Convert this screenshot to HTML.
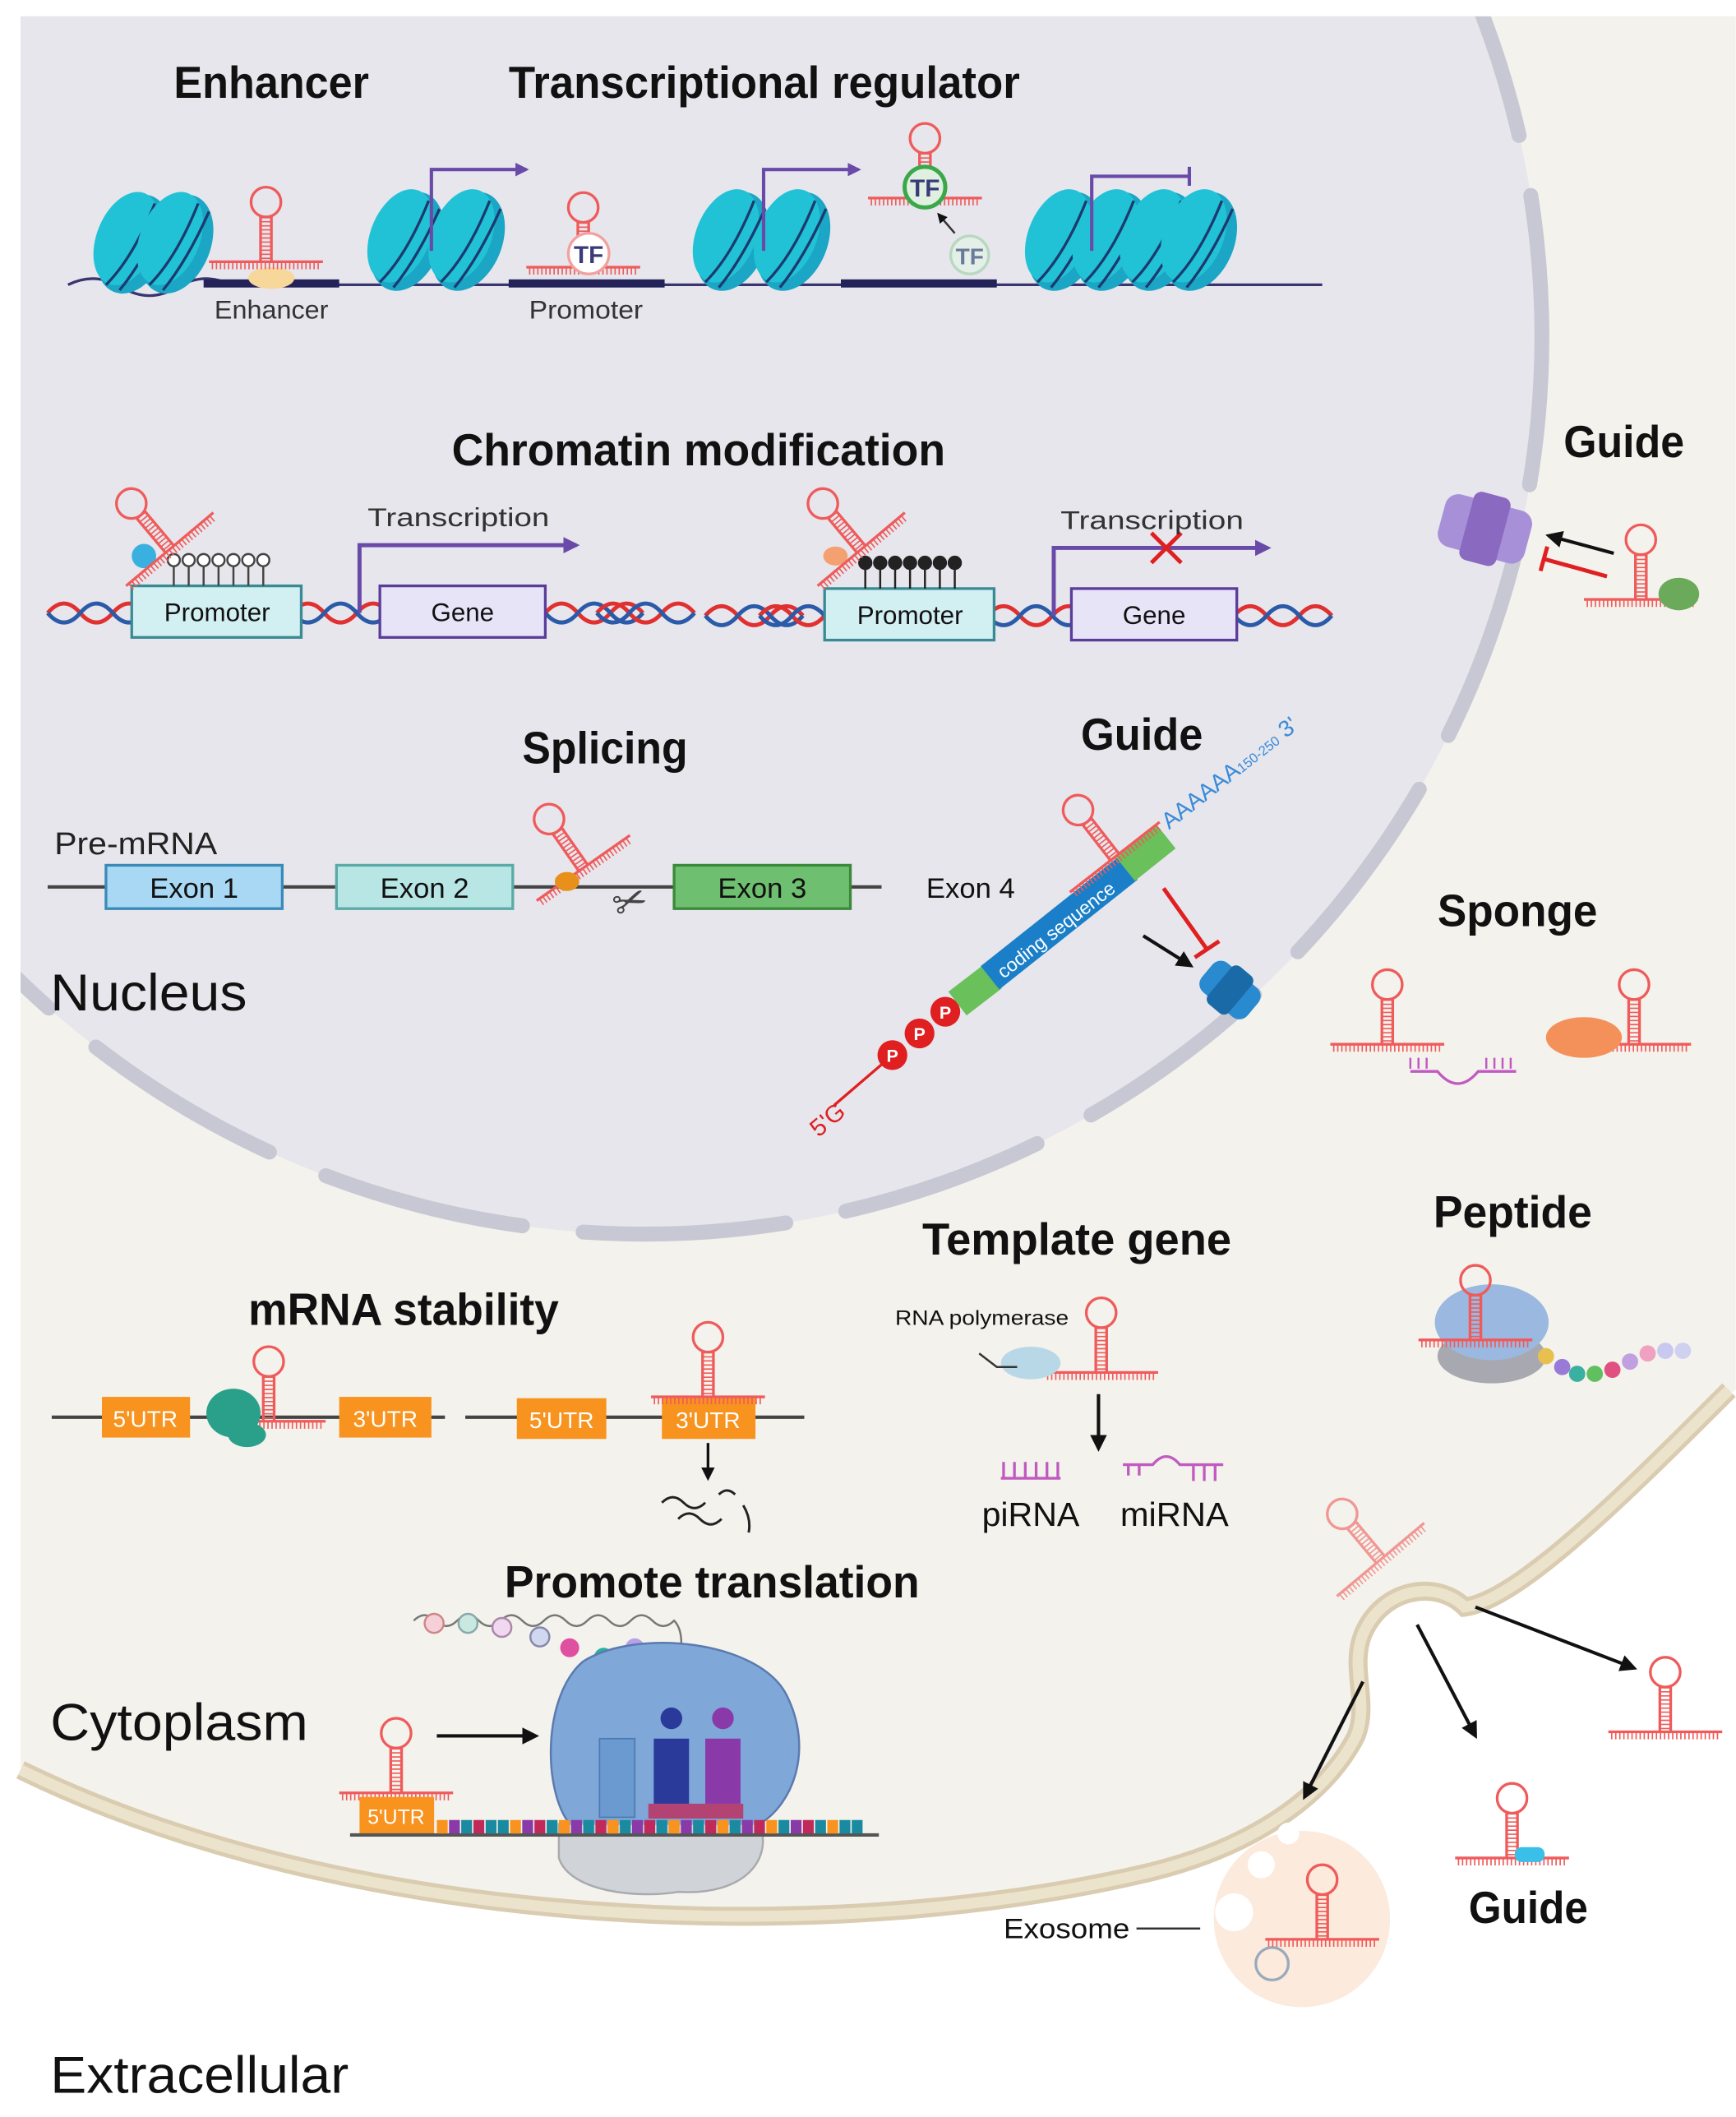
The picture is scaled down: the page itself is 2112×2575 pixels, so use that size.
<!DOCTYPE html>
<html><head><meta charset="utf-8">
<style>
html,body{margin:0;padding:0;background:#fff;}
svg{display:block;}
text{font-family:"Liberation Sans",Arial,sans-serif;}
.t{font-weight:bold;font-size:33px;fill:#111;}
.r{font-size:38px;fill:#111;}
.s{font-size:19px;fill:#333;}
</style></head><body>
<svg width="2112" height="2575" viewBox="0 0 1280 1561" xmlns="http://www.w3.org/2000/svg">
<defs>
<clipPath id="cell"><path d="M15,12 H1280 V1025 L1270,1030 C1200,1100 1120,1180 1080,1185 C1060,1165 1020,1170 1005,1205 C995,1230 1010,1255 1000,1280 C980,1320 930,1360 850,1380 C600,1440 250,1420 15,1305 Z"/></clipPath>
<g id="hp">
  <circle cx="0" cy="-44" r="11" fill="none" stroke="#ef5b5b" stroke-width="2"/>
  <line x1="-4" y1="-34" x2="-4" y2="0" stroke="#ef5b5b" stroke-width="2"/>
  <line x1="4" y1="-34" x2="4" y2="0" stroke="#ef5b5b" stroke-width="2"/>
  <line x1="0" y1="-33" x2="0" y2="0" stroke="#ef5b5b" stroke-width="8" stroke-dasharray="1 2"/>
  <line x1="-42" y1="0" x2="42" y2="0" stroke="#ef5b5b" stroke-width="2"/>
  <line x1="-40" y1="3" x2="40" y2="3" stroke="#ef5b5b" stroke-width="5" stroke-dasharray="1 2"/>
</g>
<g id="nuc">
  <ellipse cx="0" cy="0" rx="25" ry="38" transform="rotate(22)" fill="#1aa6c4"/>
  <ellipse cx="-6" cy="-2" rx="22" ry="36" transform="rotate(22)" fill="#22c2d6"/>
  <path d="M-20,30 Q0,10 16,-30" stroke="#1c3a70" stroke-width="2" fill="none"/>
  <path d="M-10,34 Q8,12 24,-24" stroke="#1c3a70" stroke-width="2" fill="none"/>
</g>
<marker id="ah" viewBox="0 0 10 10" refX="8" refY="5" markerWidth="5" markerHeight="5" orient="auto"><path d="M0,0 L10,5 L0,10 Z" fill="#111"/></marker>
<marker id="ahp" viewBox="0 0 10 10" refX="8" refY="5" markerWidth="4" markerHeight="4" orient="auto"><path d="M0,0 L10,5 L0,10 Z" fill="#6a4aa8"/></marker>
<g id="helix">
  <path d="M0,0 q12,-14 24,0 t24,0 t24,0" stroke="#e03030" stroke-width="3" fill="none"/>
  <path d="M0,0 q12,14 24,0 t24,0 t24,0" stroke="#2a5aa8" stroke-width="3" fill="none"/>
</g>
</defs>

<!-- cell -->
<path d="M15,12 H1280 V1025 L1270,1030 C1200,1100 1120,1180 1080,1185 C1060,1165 1020,1170 1005,1205 C995,1230 1010,1255 1000,1280 C980,1320 930,1360 850,1380 C600,1440 250,1420 15,1305 Z" fill="#f4f2ec"/>
<path d="M15,1305 C250,1420 600,1440 850,1380 C930,1360 980,1320 1000,1280 C1010,1255 995,1230 1005,1205 C1020,1170 1060,1165 1080,1185 C1120,1180 1200,1100 1275,1025" fill="none" stroke="#d9ccb0" stroke-width="14"/>
<path d="M15,1305 C250,1420 600,1440 850,1380 C930,1360 980,1320 1000,1280 C1010,1255 995,1230 1005,1205 C1020,1170 1060,1165 1080,1185 C1120,1180 1200,1100 1275,1025" fill="none" stroke="#ece3cc" stroke-width="8"/>

<!-- nucleus -->
<g clip-path="url(#cell)">
<circle cx="475" cy="248" r="662" fill="#e6e6ec"/>
<circle cx="475" cy="248" r="662" fill="none" stroke="#c8c8d4" stroke-width="11" stroke-linecap="round" stroke-dasharray="150 45" stroke-dashoffset="40"/>
</g>

<!-- Titles -->
<text class="t" x="128" y="72" textLength="144" lengthAdjust="spacingAndGlyphs">Enhancer</text>
<text class="t" x="375" y="72" textLength="377" lengthAdjust="spacingAndGlyphs">Transcriptional regulator</text>
<text class="t" x="333" y="343" textLength="364" lengthAdjust="spacingAndGlyphs">Chromatin modification</text>
<text class="t" x="1153" y="337" textLength="89" lengthAdjust="spacingAndGlyphs">Guide</text>
<text class="t" x="385" y="563" textLength="122" lengthAdjust="spacingAndGlyphs">Splicing</text>
<text class="t" x="797" y="553" textLength="90" lengthAdjust="spacingAndGlyphs">Guide</text>
<text class="t" x="1060" y="683" textLength="118" lengthAdjust="spacingAndGlyphs">Sponge</text>
<text class="r" x="37" y="745" textLength="145" lengthAdjust="spacingAndGlyphs">Nucleus</text>
<text class="t" x="1057" y="905" textLength="117" lengthAdjust="spacingAndGlyphs">Peptide</text>
<text class="t" x="680" y="925" textLength="228" lengthAdjust="spacingAndGlyphs">Template gene</text>
<text class="t" x="183" y="977" textLength="229" lengthAdjust="spacingAndGlyphs">mRNA stability</text>
<text class="t" x="372" y="1178" textLength="306" lengthAdjust="spacingAndGlyphs">Promote translation</text>
<text class="r" x="37" y="1283" textLength="190" lengthAdjust="spacingAndGlyphs">Cytoplasm</text>
<text class="r" x="37" y="1543" textLength="220" lengthAdjust="spacingAndGlyphs">Extracellular</text>
<text class="t" x="1083" y="1418" textLength="88" lengthAdjust="spacingAndGlyphs">Guide</text>

<!-- Row 1 -->
<path d="M50,210 Q70,200 90,212 T130,212 T170,210 L975,210" stroke="#3a3470" stroke-width="2" fill="none"/>
<rect x="150" y="206" width="100" height="6" fill="#23235a"/>
<ellipse cx="200" cy="205" rx="17" ry="8" fill="#f7d79a"/>
<rect x="375" y="206" width="115" height="6" fill="#23235a"/>
<rect x="620" y="206" width="115" height="6" fill="#23235a"/>
<use href="#nuc" x="98" y="180"/><use href="#nuc" x="130" y="180"/>
<use href="#nuc" x="300" y="178"/><use href="#nuc" x="345" y="178"/>
<use href="#nuc" x="540" y="178"/><use href="#nuc" x="585" y="178"/>
<use href="#nuc" x="785" y="178"/><use href="#nuc" x="820" y="178"/><use href="#nuc" x="855" y="178"/><use href="#nuc" x="885" y="178"/>
<use href="#hp" x="196" y="193"/>
<use href="#hp" x="430" y="197"/>
<circle cx="434" cy="187" r="15" fill="#fff" stroke="#f3a0a0" stroke-width="2"/><text x="434" y="194" font-size="18" font-weight="bold" fill="#3a3a7a" text-anchor="middle">TF</text>
<use href="#hp" x="682" y="146"/>
<circle cx="682" cy="138" r="15" fill="#e0f0e0" stroke="#3aa84a" stroke-width="3"/><text x="682" y="145" font-size="18" font-weight="bold" fill="#3a3a7a" text-anchor="middle">TF</text>
<circle cx="715" cy="188" r="14" fill="#e4efe8" stroke="#b8d8c0" stroke-width="2"/><text x="715" y="195" font-size="17" font-weight="bold" fill="#6a7a9a" text-anchor="middle">TF</text>
<line x1="704" y1="172" x2="692" y2="158" stroke="#333" stroke-width="1.5" marker-end="url(#ah)"/>
<path d="M318,185 V125 H388" stroke="#6a4aa8" stroke-width="2.5" fill="none" marker-end="url(#ahp)"/>
<path d="M563,185 V125 H633" stroke="#6a4aa8" stroke-width="2.5" fill="none" marker-end="url(#ahp)"/>
<path d="M805,185 V130 H877 M877,123 V137" stroke="#6a4aa8" stroke-width="2.5" fill="none"/>
<text class="s" x="158" y="235" textLength="84" lengthAdjust="spacingAndGlyphs" fill="#3a3a6a">Enhancer</text>
<text class="s" x="390" y="235" textLength="84" lengthAdjust="spacingAndGlyphs" fill="#3a3a6a">Promoter</text>

<!-- Row 2 chromatin -->
<use href="#helix" x="35" y="452"/><use href="#helix" x="215" y="452"/><use href="#helix" x="402" y="452"/><use href="#helix" x="440" y="452"/>
<use href="#helix" x="520" y="454"/><use href="#helix" x="560" y="454"/><use href="#helix" x="728" y="454"/><use href="#helix" x="910" y="454"/>
<rect x="97" y="432" width="125" height="38" fill="#d2eff2" stroke="#3a8a95" stroke-width="2"/>
<text x="160" y="458" font-size="19" text-anchor="middle" fill="#111">Promoter</text>
<rect x="280" y="432" width="122" height="38" fill="#e8e4f8" stroke="#5a3d9a" stroke-width="2"/>
<text x="341" y="458" font-size="19" text-anchor="middle" fill="#111">Gene</text>
<rect x="608" y="434" width="125" height="38" fill="#d2eff2" stroke="#3a8a95" stroke-width="2"/>
<text x="671" y="460" font-size="19" text-anchor="middle" fill="#111">Promoter</text>
<rect x="790" y="434" width="122" height="38" fill="#e8e4f8" stroke="#5a3d9a" stroke-width="2"/>
<text x="851" y="460" font-size="19" text-anchor="middle" fill="#111">Gene</text>
<path d="M265,452 V402 H425" stroke="#6a4aa8" stroke-width="3" fill="none" marker-end="url(#ahp)"/>
<path d="M777,454 V404 H935" stroke="#6a4aa8" stroke-width="3" fill="none" marker-end="url(#ahp)"/>
<path d="M849,393 L871,415 M871,393 L849,415" stroke="#e02020" stroke-width="3"/>
<text class="s" x="271" y="388" textLength="134" lengthAdjust="spacingAndGlyphs">Transcription</text>
<text class="s" x="782" y="390" textLength="135" lengthAdjust="spacingAndGlyphs">Transcription</text>
<g stroke="#444" stroke-width="1.5" fill="#fff">
<line x1="128" y1="432" x2="128" y2="418"/><line x1="139" y1="432" x2="139" y2="418"/><line x1="150" y1="432" x2="150" y2="418"/><line x1="161" y1="432" x2="161" y2="418"/><line x1="172" y1="432" x2="172" y2="418"/><line x1="183" y1="432" x2="183" y2="418"/><line x1="194" y1="432" x2="194" y2="418"/>
<circle cx="128" cy="413" r="4.5"/><circle cx="139" cy="413" r="4.5"/><circle cx="150" cy="413" r="4.5"/><circle cx="161" cy="413" r="4.5"/><circle cx="172" cy="413" r="4.5"/><circle cx="183" cy="413" r="4.5"/><circle cx="194" cy="413" r="4.5"/>
</g>
<g stroke="#222" stroke-width="1.5" fill="#222">
<line x1="638" y1="434" x2="638" y2="420"/><line x1="649" y1="434" x2="649" y2="420"/><line x1="660" y1="434" x2="660" y2="420"/><line x1="671" y1="434" x2="671" y2="420"/><line x1="682" y1="434" x2="682" y2="420"/><line x1="693" y1="434" x2="693" y2="420"/><line x1="704" y1="434" x2="704" y2="420"/>
<circle cx="638" cy="415" r="4.5"/><circle cx="649" cy="415" r="4.5"/><circle cx="660" cy="415" r="4.5"/><circle cx="671" cy="415" r="4.5"/><circle cx="682" cy="415" r="4.5"/><circle cx="693" cy="415" r="4.5"/><circle cx="704" cy="415" r="4.5"/>
</g>
<circle cx="106" cy="410" r="9" fill="#3ab0e0"/>
<use href="#hp" transform="translate(125,405) rotate(-40)"/>
<ellipse cx="616" cy="410" rx="9" ry="7" fill="#f4a070"/>
<use href="#hp" transform="translate(635,405) rotate(-40)"/>

<!-- Row 3 splicing -->
<text x="40" y="630" font-size="23" fill="#222" textLength="120" lengthAdjust="spacingAndGlyphs">Pre-mRNA</text>
<line x1="35" y1="654" x2="650" y2="654" stroke="#444" stroke-width="2.5"/>
<rect x="78" y="638" width="130" height="32" fill="#a8d8f4" stroke="#3a8ab8" stroke-width="2"/>
<text x="143" y="662" font-size="21" text-anchor="middle" fill="#111">Exon 1</text>
<rect x="248" y="638" width="130" height="32" fill="#b8e6e4" stroke="#5aaaa8" stroke-width="2"/>
<text x="313" y="662" font-size="21" text-anchor="middle" fill="#111">Exon 2</text>
<rect x="497" y="638" width="130" height="32" fill="#6fbf70" stroke="#3a8a3a" stroke-width="2"/>
<text x="562" y="662" font-size="21" text-anchor="middle" fill="#111">Exon 3</text>
<text x="683" y="662" font-size="21" fill="#111">Exon 4</text>
<use href="#hp" transform="translate(430,640) rotate(-35)"/>
<ellipse cx="418" cy="650" rx="9" ry="7" fill="#e8901a"/>
<text x="452" y="675" font-size="30" fill="#444" transform="rotate(-20 465 665)">✂</text>

<!-- Guide mRNA -->
<line x1="615" y1="815" x2="650" y2="785" stroke="#e02020" stroke-width="2"/>
<text x="598" y="836" font-size="18" fill="#e02020" transform="rotate(-40 605 830)">5'G</text>
<g fill="#e02020"><circle cx="658" cy="778" r="11"/><circle cx="678" cy="762" r="11"/><circle cx="697" cy="746" r="11"/></g>
<g fill="#fff" font-size="13" font-weight="bold" text-anchor="middle"><text x="658" y="783">P</text><text x="678" y="767">P</text><text x="697" y="751">P</text></g>
<line x1="706" y1="740" x2="732" y2="720" stroke="#6ac05a" stroke-width="22"/>
<line x1="730" y1="721" x2="832" y2="640" stroke="#1a7fc8" stroke-width="22"/>
<line x1="830" y1="641" x2="860" y2="617" stroke="#6ac05a" stroke-width="22"/>
<text x="740" y="722" font-size="14" fill="#fff" transform="rotate(-38 740 722)">coding sequence</text>
<use href="#hp" transform="translate(822,632) rotate(-38)"/>
<text x="862" y="612" font-size="17" fill="#3a8ad8" transform="rotate(-38 862 612)">AAAAAA<tspan font-size="10">150-250</tspan> 3'</text>
<line x1="843" y1="690" x2="878" y2="712" stroke="#111" stroke-width="2.5" marker-end="url(#ah)"/>
<path d="M858,655 L890,700 M881,706 L899,694" stroke="#e02020" stroke-width="3" fill="none"/>
<g transform="translate(907,730) rotate(40)"><rect x="-22" y="-14" width="44" height="28" rx="8" fill="#2a8ad0"/><rect x="-10" y="-18" width="20" height="36" rx="5" fill="#1a6aa8"/></g>

<!-- Right guide -->
<g transform="translate(1095,390) rotate(15)"><rect x="-33" y="-20" width="66" height="40" rx="10" fill="#a890d8"/><rect x="-14" y="-26" width="28" height="52" rx="6" fill="#8a6ac0"/></g>
<line x1="1190" y1="408" x2="1142" y2="395" stroke="#111" stroke-width="2.5" marker-end="url(#ah)"/>
<path d="M1185,425 L1138,412 M1141,403 L1136,421" stroke="#e02020" stroke-width="3" fill="none"/>
<use href="#hp" x="1210" y="442"/>
<ellipse cx="1238" cy="438" rx="15" ry="12" fill="#6aaa5a"/>

<!-- Sponge -->
<use href="#hp" x="1023" y="770"/>
<path d="M1040,790 H1060 Q1075,808 1090,790 H1118" stroke="#c05ac0" stroke-width="2" fill="none"/>
<path d="M1040,788 V780 M1046,788 V780 M1052,788 V780 M1096,788 V780 M1102,788 V780 M1108,788 V780 M1114,788 V780" stroke="#c05ac0" stroke-width="1.5"/>
<use href="#hp" x="1205" y="770"/>
<ellipse cx="1168" cy="765" rx="28" ry="15" fill="#f4905a"/>

<!-- Peptide -->
<ellipse cx="1100" cy="1000" rx="40" ry="20" fill="#a8a8b0"/>
<ellipse cx="1100" cy="975" rx="42" ry="28" fill="#9ab8e0"/>
<use href="#hp" x="1088" y="988"/>
<g><circle cx="1140" cy="1000" r="6" fill="#e8c050"/><circle cx="1152" cy="1008" r="6" fill="#9a7ad8"/><circle cx="1163" cy="1013" r="6" fill="#3ab0a0"/><circle cx="1176" cy="1013" r="6" fill="#60c060"/><circle cx="1189" cy="1010" r="6" fill="#e05080"/><circle cx="1202" cy="1004" r="6" fill="#c0a0e0"/><circle cx="1215" cy="998" r="6" fill="#f0a0c0"/><circle cx="1228" cy="996" r="6" fill="#c8c8f0"/><circle cx="1241" cy="996" r="6" fill="#d0d0f0"/></g>

<!-- Template gene -->
<use href="#hp" x="812" y="1012"/>
<ellipse cx="760" cy="1005" rx="22" ry="12" fill="#b8d8e8"/>
<path d="M722,998 L735,1008 H750" stroke="#333" stroke-width="1.5" fill="none"/>
<text x="660" y="977" font-size="15" fill="#111" textLength="128" lengthAdjust="spacingAndGlyphs">RNA polymerase</text>
<line x1="810" y1="1028" x2="810" y2="1068" stroke="#111" stroke-width="2.5" marker-end="url(#ah)"/>
<path d="M738,1090 H782 M740,1090 V1078 M748,1090 V1078 M756,1090 V1078 M764,1090 V1078 M772,1090 V1078 M780,1090 V1078" stroke="#c05ac0" stroke-width="2" fill="none"/>
<path d="M828,1080 H850 Q860,1068 870,1080 H902 M880,1080 V1092 M888,1080 V1092 M896,1080 V1092 M832,1080 V1088 M840,1080 V1088" stroke="#c05ac0" stroke-width="2" fill="none"/>
<text x="724" y="1125" font-size="25" fill="#111" textLength="72" lengthAdjust="spacingAndGlyphs">piRNA</text>
<text x="826" y="1125" font-size="25" fill="#111" textLength="80" lengthAdjust="spacingAndGlyphs">miRNA</text>

<!-- mRNA stability -->
<line x1="38" y1="1045" x2="328" y2="1045" stroke="#444" stroke-width="2.5"/>
<rect x="75" y="1030" width="65" height="30" fill="#f7931e"/><text x="107" y="1052" font-size="17" fill="#fff" text-anchor="middle">5'UTR</text>
<rect x="250" y="1030" width="68" height="30" fill="#f7931e"/><text x="284" y="1052" font-size="17" fill="#fff" text-anchor="middle">3'UTR</text>
<use href="#hp" x="198" y="1048"/>
<ellipse cx="172" cy="1042" rx="20" ry="18" fill="#2aa08a"/>
<ellipse cx="182" cy="1058" rx="14" ry="9" fill="#2aa08a"/>
<line x1="343" y1="1045" x2="593" y2="1045" stroke="#444" stroke-width="2.5"/>
<rect x="381" y="1031" width="66" height="30" fill="#f7931e"/><text x="414" y="1053" font-size="17" fill="#fff" text-anchor="middle">5'UTR</text>
<rect x="488" y="1031" width="69" height="30" fill="#f7931e"/><text x="522" y="1053" font-size="17" fill="#fff" text-anchor="middle">3'UTR</text>
<use href="#hp" x="522" y="1030"/>
<line x1="522" y1="1064" x2="522" y2="1090" stroke="#111" stroke-width="2" marker-end="url(#ah)"/>
<path d="M488,1108 q8,-8 16,0 t16,0 M500,1120 q8,-8 16,0 t16,0 M530,1102 q6,-6 12,0 M548,1110 q6,10 4,20" stroke="#222" stroke-width="1.8" fill="none"/>

<!-- Promote translation -->
<path d="M305,1195 q8,-8 16,0 t16,0 t16,0 t16,0 t16,0 t16,0 t16,0 t16,0 t16,0 t16,0 t16,0 t16,0 q8,8 4,30" stroke="#777" stroke-width="1.5" fill="none"/>
<g stroke-width="1.5"><circle cx="320" cy="1197" r="7" fill="#f6d0d8" stroke="#c88"/><circle cx="345" cy="1197" r="7" fill="#c8e8e0" stroke="#8aa"/><circle cx="370" cy="1200" r="7" fill="#f0d8f0" stroke="#a8a"/><circle cx="398" cy="1207" r="7" fill="#d0d8f0" stroke="#88a"/><circle cx="420" cy="1215" r="7" fill="#e050a0"/><circle cx="445" cy="1222" r="7" fill="#2ab0a0"/><circle cx="468" cy="1215" r="7" fill="#b8a0e8"/><circle cx="493" cy="1240" r="7" fill="#f0b030"/></g>
<path d="M430,1225 C470,1200 560,1210 580,1250 C600,1290 585,1330 560,1345 L420,1345 C400,1320 400,1250 430,1225 Z" fill="#7fa7d8" stroke="#5a7ab0" stroke-width="1.5"/>
<path d="M412,1345 H560 C570,1370 550,1398 500,1395 C470,1400 420,1395 412,1370 Z" fill="#d0d3d8" stroke="#a8aab0" stroke-width="1.5"/>
<rect x="442" y="1282" width="26" height="58" fill="#6a9ad0" stroke="#4a7ab0"/>
<rect x="482" y="1282" width="26" height="48" fill="#2a3a9a"/>
<rect x="520" y="1282" width="26" height="48" fill="#8a3aa8"/>
<circle cx="495" cy="1267" r="8" fill="#2a3a9a"/><circle cx="533" cy="1267" r="8" fill="#8a3aa8"/>
<line x1="322" y1="1280" x2="395" y2="1280" stroke="#111" stroke-width="2.5" marker-end="url(#ah)"/>
<use href="#hp" x="292" y="1322"/>
<rect x="265" y="1325" width="55" height="28" fill="#f7931e"/><text x="292" y="1345" font-size="15" fill="#fff" text-anchor="middle">5'UTR</text>
<line x1="258" y1="1353" x2="648" y2="1353" stroke="#555" stroke-width="2.5"/>
<g>
<rect x="322" y="1342" width="8" height="10" fill="#f7931e"/><rect x="331" y="1342" width="8" height="10" fill="#8a3aa8"/><rect x="340" y="1342" width="8" height="10" fill="#1a8aa0"/><rect x="349" y="1342" width="8" height="10" fill="#c02a5a"/><rect x="358" y="1342" width="8" height="10" fill="#1a8aa0"/><rect x="367" y="1342" width="8" height="10" fill="#1a8aa0"/><rect x="376" y="1342" width="8" height="10" fill="#f7931e"/><rect x="385" y="1342" width="8" height="10" fill="#8a3aa8"/><rect x="394" y="1342" width="8" height="10" fill="#c02a5a"/><rect x="403" y="1342" width="8" height="10" fill="#1a8aa0"/><rect x="412" y="1342" width="8" height="10" fill="#f7931e"/><rect x="421" y="1342" width="8" height="10" fill="#8a3aa8"/><rect x="430" y="1342" width="8" height="10" fill="#1a8aa0"/><rect x="439" y="1342" width="8" height="10" fill="#c02a5a"/><rect x="448" y="1342" width="8" height="10" fill="#f7931e"/><rect x="457" y="1342" width="8" height="10" fill="#1a8aa0"/><rect x="466" y="1342" width="8" height="10" fill="#8a3aa8"/><rect x="475" y="1342" width="8" height="10" fill="#c02a5a"/><rect x="484" y="1342" width="8" height="10" fill="#1a8aa0"/><rect x="493" y="1342" width="8" height="10" fill="#f7931e"/><rect x="502" y="1342" width="8" height="10" fill="#8a3aa8"/><rect x="511" y="1342" width="8" height="10" fill="#1a8aa0"/><rect x="520" y="1342" width="8" height="10" fill="#c02a5a"/><rect x="529" y="1342" width="8" height="10" fill="#f7931e"/><rect x="538" y="1342" width="8" height="10" fill="#1a8aa0"/><rect x="547" y="1342" width="8" height="10" fill="#8a3aa8"/><rect x="556" y="1342" width="8" height="10" fill="#c02a5a"/><rect x="565" y="1342" width="8" height="10" fill="#f7931e"/><rect x="574" y="1342" width="8" height="10" fill="#1a8aa0"/><rect x="583" y="1342" width="8" height="10" fill="#8a3aa8"/><rect x="592" y="1342" width="8" height="10" fill="#c02a5a"/><rect x="601" y="1342" width="8" height="10" fill="#1a8aa0"/><rect x="610" y="1342" width="8" height="10" fill="#f7931e"/><rect x="619" y="1342" width="8" height="10" fill="#1a8aa0"/><rect x="628" y="1342" width="8" height="10" fill="#1a8aa0"/>
<rect x="478" y="1330" width="70" height="11" fill="#c02a5a" opacity="0.8"/>
</g>

<!-- Exosome & extracellular -->
<circle cx="960" cy="1415" r="65" fill="#fbe6d6" opacity="0.85"/>
<circle cx="910" cy="1410" r="14" fill="#fff"/><circle cx="930" cy="1375" r="10" fill="#fff"/><circle cx="950" cy="1352" r="8" fill="#fff"/>
<circle cx="938" cy="1448" r="12" fill="none" stroke="#9aaabb" stroke-width="2"/>
<use href="#hp" x="975" y="1430"/>
<line x1="838" y1="1422" x2="885" y2="1422" stroke="#333" stroke-width="1.5"/>
<text x="740" y="1429" font-size="21" fill="#111" textLength="93" lengthAdjust="spacingAndGlyphs">Exosome</text>
<g opacity="0.6"><use href="#hp" transform="translate(1018,1150) rotate(-40)"/></g>
<line x1="1045" y1="1198" x2="1088" y2="1280" stroke="#111" stroke-width="2.5" marker-end="url(#ah)"/>
<line x1="1088" y1="1185" x2="1205" y2="1230" stroke="#111" stroke-width="2.5" marker-end="url(#ah)"/>
<line x1="1005" y1="1240" x2="962" y2="1325" stroke="#111" stroke-width="2.5" marker-end="url(#ah)"/>
<use href="#hp" x="1228" y="1277"/>
<use href="#hp" x="1115" y="1370"/>
<rect x="1117" y="1362" width="22" height="11" rx="5" fill="#3ac0e8"/>
</svg>
</body></html>
